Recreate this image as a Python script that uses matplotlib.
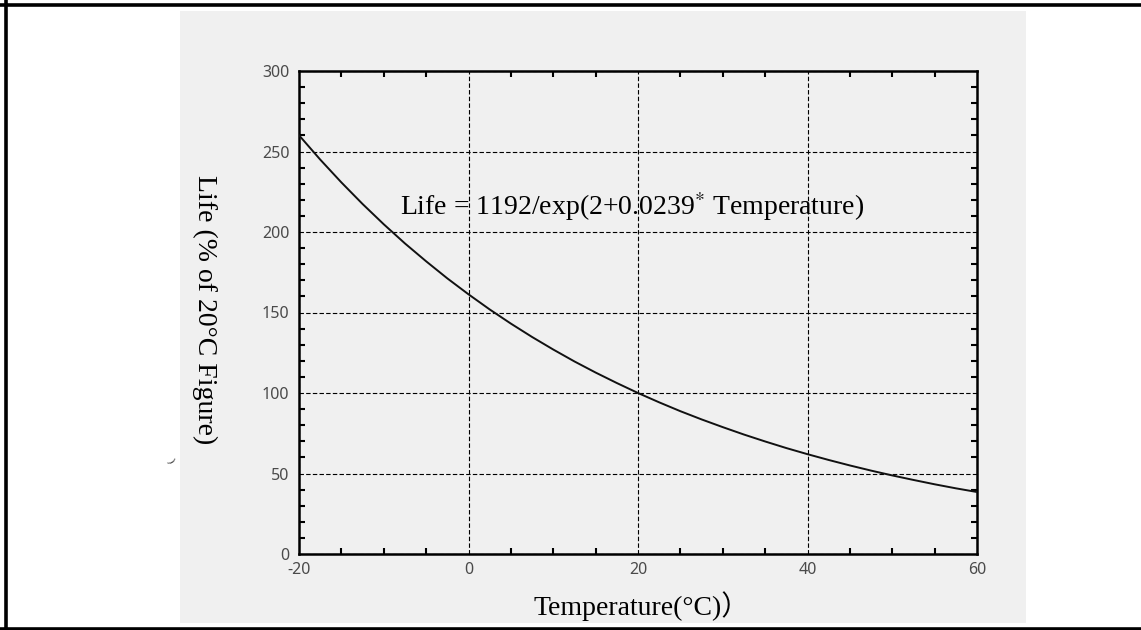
import matplotlib
matplotlib.use('Agg')
import matplotlib.pyplot as plt
from matplotlib.patches import Rectangle
from matplotlib.lines import Line2D
from matplotlib.ticker import MultipleLocator

# 読み取り値 (グラフから)
temperature = [-20, -17.5, -15, -12.5, -10, -7.5, -5, -2.5, 0, 2.5, 5, 7.5, 10, 12.5,
               15, 17.5, 20, 22.5, 25, 27.5, 30, 32.5, 35, 37.5, 40, 42.5, 45,
               47.5, 50, 52.5, 55, 57.5, 60]
life = [260.1, 245.0, 230.8, 217.4, 204.8, 192.9, 181.8, 171.2, 161.3, 151.9,
        143.1, 134.8, 127.0, 119.6, 112.7, 106.2, 100.0, 94.2, 88.7, 83.6,
        78.8, 74.2, 69.9, 65.8, 62.0, 58.4, 55.0, 51.8, 48.8, 46.0, 43.3,
        40.8, 38.5]

x_ticks = [-20, 0, 20, 40, 60]
y_ticks = [0, 50, 100, 150, 200, 250, 300]

W, H = 1141, 630
SERIF = ['Liberation Serif', 'Noto Sans CJK JP']

plt.rcParams['mathtext.fontset'] = 'stix'
plt.rcParams['axes.unicode_minus'] = False

fig = plt.figure(figsize=(W / 100, H / 100), dpi=100)
fig.patch.set_facecolor('white')

# 灰色の背景パネル
fig.patches.append(Rectangle((180 / W, 1 - 623 / H), 846 / W, 612 / H,
                             transform=fig.transFigure, facecolor='#f0f0f0',
                             edgecolor='none', zorder=-5))

# 外枠
for xs, ys in [([0, 1], [1 - 5 / H] * 2), ([6 / W] * 2, [0, 1]), ([0, 1], [1.5 / H] * 2)]:
    fig.add_artist(Line2D(xs, ys, transform=fig.transFigure, color='black', lw=2.6))

ax = fig.add_axes([299 / W, 1 - 554 / H, 678 / W, 483 / H])
ax.set_zorder(2)
ax.set_facecolor('none')
ax.plot(temperature, life, color='#111111', lw=1.4, zorder=3)

ax.set_xlim(-20, 60)
ax.set_ylim(0, 300)
ax.set_xticks(x_ticks)
ax.set_yticks(y_ticks)
ax.xaxis.set_minor_locator(MultipleLocator(5))
ax.yaxis.set_minor_locator(MultipleLocator(10))
ax.tick_params(which='both', direction='in', top=True, right=True,
               width=1.5, color='black', labelcolor='#4a4a4a')
ax.tick_params(which='major', length=0)
ax.tick_params(which='minor', length=4)
ax.tick_params(axis='y', which='major', pad=7)
ax.tick_params(axis='x', which='major', pad=6)
for lab in ax.get_xticklabels() + ax.get_yticklabels():
    lab.set_family('Noto Sans')
    lab.set_fontsize(11.5)

ax.grid(which='major', color='black', lw=0.8, ls=(0, (4, 2)))
for sp in ax.spines.values():
    sp.set_linewidth(1.8)

# 軸ラベル
fig.text(205 / W, 1 - 310 / H, 'Life (% of 20°C Figure)', rotation=270,
         ha='center', va='center', family=SERIF, fontsize=20)
fig.text(642 / W, 1 - 615 / H, 'Temperature(°C)）', ha='center', va='baseline',
         family=SERIF, fontsize=20)

# 式
fig.text(632 / W, 1 - 215 / H, r'Life = 1192/exp(2+0.0239$^{*}$ Temperature)',
         ha='center', va='baseline', family=SERIF, fontsize=20)

# 左側の小さな記号
fig.text(171 / W, 1 - 461 / H, ')', rotation=-60, ha='center', va='center',
         family=SERIF, fontsize=7)

fig.savefig('out.png', dpi=100)
